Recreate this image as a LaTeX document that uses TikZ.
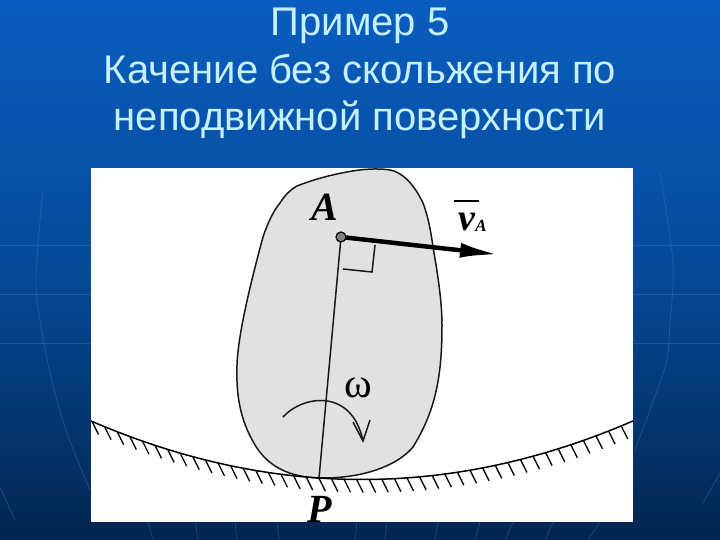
\documentclass[tikz,border=0pt]{standalone}
\usepackage{fontspec}
\setmainfont{Liberation Sans}
\newfontfamily\serifit{Liberation Serif}
\usetikzlibrary{arrows.meta}
\definecolor{bgtop}{HTML}{0A5DBF}
\definecolor{bgmid}{HTML}{064A98}
\definecolor{bgbot}{HTML}{02264F}
\definecolor{titlec}{HTML}{C4F0FF}
\definecolor{bodyc}{HTML}{E1E1E1}
\definecolor{gridc}{HTML}{3C78C8}
\tikzset{
  titletext/.style={text=titlec,font=\fontsize{40}{40}\selectfont,anchor=base,inner sep=0pt},
  letter/.style={text=black,inner sep=0pt,anchor=base},
  thinline/.style={draw=black!90,line width=1.5pt},
  gridline/.style={draw=gridc,line width=0.8pt,opacity=0.4},
}
\begin{document}
\begin{tikzpicture}[x=1pt,y=-1pt,declare function={surf(\x)=479.5-7.97*((\x-362)/100)^2;}]
\useasboundingbox (0,0) rectangle (720,540);
\shade[top color=bgtop,bottom color=bgbot,middle color=bgmid] (0,0) rectangle (720,540);
% faint background lines
\draw[gridline] plot[smooth] coordinates {(43,190) (37,257) (37,300) (50,373) (67,433) (90,490)};
\draw[gridline] (0,487) -- (15,520);
\draw[gridline] plot[smooth] coordinates {(660,173) (673,263) (670,323) (665,367) (635,450)};
\draw[gridline] (720,473) -- (703,503);
\draw[gridline] (0,245) -- (91,245);
\draw[gridline] (0,294) -- (91,294);
\draw[gridline] (0,343) -- (91,343);
\draw[gridline] (633,245) -- (720,245);
\draw[gridline] (633,294) -- (720,294);
\draw[gridline] (633,343) -- (720,343);
\foreach \a/\b in {148/153,195/198,235/237,277/279,357/355,387/385,438/435,480/475,513/505,553/545,600/588}
  \draw[gridline] (\a,522) -- (\b,540);
% title
\node[titletext] (t1) at (360,36) {Пример 5};
\node[titletext] (t2) at (360,84) {Качение без скольжения по};
\node[titletext] (t3) at (360,131) {неподвижной поверхности};
% white panel
\fill[white] (91,168) rectangle (633,522);
% body
\draw[fill=bodyc,draw=black!90,line width=1.5pt]
 (347,172) .. controls (362,169) and (378,168) .. (390,170)
 .. controls (402,172) and (414,184) .. (423,203)
 .. controls (428,216) and (431,232) .. (433,247)
 .. controls (437,270) and (442,300) .. (442,325)
 .. controls (442,375) and (436,410) .. (413,447)
 .. controls (398,465) and (365,478) .. (323,478)
 .. controls (295,478) and (270,470) .. (255,445)
 .. controls (240,420) and (236,395) .. (237,365)
 .. controls (238,335) and (250,285) .. (263,237)
 .. controls (268,222) and (274,210) .. (280,203)
 .. controls (285,195) and (290,190) .. (297,186)
 .. controls (312,180) and (330,175) .. (347,172) -- cycle;
% surface
\draw[black,line width=1.5pt] plot[domain=91:633,samples=60] (\x,{surf(\x)});
\foreach \x in {92,104.6,...,628}
  \draw[black,line width=1.3pt] (\x,{surf(\x)}) -- ++(6.5,13);
% points
\coordinate (A) at (341,237);
\coordinate (P) at (319,478);
\coordinate (Vtip) at (499,254.6);
\coordinate (Sq1) at (375,245);
\coordinate (Sq2) at (372,272);
\coordinate (Sq3) at (343,269);
\draw[thinline] (A) -- (P);
\draw[thinline] (Sq1) -- (Sq2) -- (Sq3);
\draw[black,line width=4.5pt,-{Latex[length=39pt,width=15pt]}] (A) -- (Vtip);
\node[circle,draw=black,fill=gray,line width=1.2pt,minimum size=10pt,inner sep=0pt] (Adot) at (A) {};
% labels
\node[letter,font=\serifit\bfseries\itshape\fontsize{40}{40}\selectfont] (LA) at (325,221) {A};
\node[letter,font=\serifit\bfseries\itshape\fontsize{40}{40}\selectfont] (LP) at (320,522) {P};
\node[letter,font=\serifit\bfseries\itshape\fontsize{38}{38}\selectfont] (LV) at (467,230) {v};
\node[letter,font=\serifit\bfseries\itshape\fontsize{17}{17}\selectfont] (LVs) at (481,231) {A};
\coordinate (B1) at (454,201);
\coordinate (B2) at (479,201);
\draw[black,line width=1.4pt] (B1) -- (B2);
\node[letter,font=\serifit\fontsize{42}{42}\selectfont] (LO) at (358,397) {ω};
% rotation arrow
\coordinate (R0) at (283,417);
\coordinate (R1) at (363,441);
\coordinate (R2) at (353,422);
\coordinate (R3) at (370,420);
\draw[thinline] (R0) .. controls (303,395) and (352,388) .. (R1);
\draw[thinline] (R2) -- (R1) -- (R3);
\end{tikzpicture}
\end{document}
